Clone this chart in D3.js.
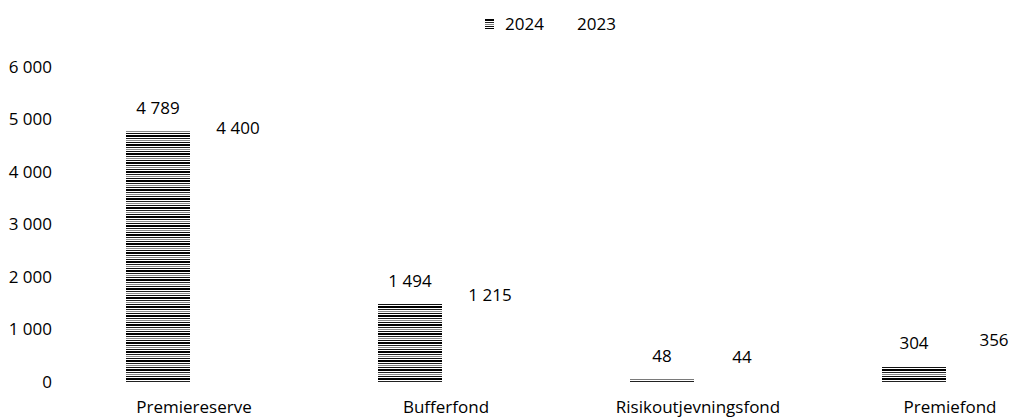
<!DOCTYPE html>
<html>
<head>
<meta charset="utf-8">
<script src="https://cdn.jsdelivr.net/npm/d3@7"></script>
<style>
  body { margin: 0; background: #fff; }
  svg text { font-family: "Open Sans", "Noto Sans", sans-serif; fill: #000; }
</style>
</head>
<body>
<div id="chart"></div>
<script>
'use strict';
// chart data
var categories = ['Premiereserve', 'Bufferfond', 'Risikoutjevningsfond', 'Premiefond'];
var series = ['2024', '2023'];
var values2024 = [4789, 1494, 48, 304];
var values2023 = [4400, 1215, 44, 356];
var yTicks = [0, 1000, 2000, 3000, 4000, 5000, 6000];

var width = 1009, height = 417;
var svg = d3.select('#chart').append('svg')
    .attr('width', width)
    .attr('height', height);

// striped fill used by the 2024 bars
var defs = svg.append('defs');
var pat = defs.append('pattern')
    .attr('id', 'stripes')
    .attr('patternUnits', 'userSpaceOnUse')
    .attr('width', 8).attr('height', 9);
pat.append('rect').attr('width', 8).attr('height', 9).attr('fill', '#fff');
pat.append('rect').attr('y', 0).attr('width', 8).attr('height', 2).attr('fill', '#000');
pat.append('rect').attr('y', 3).attr('width', 8).attr('height', 1).attr('fill', '#222');
pat.append('rect').attr('y', 5).attr('width', 8).attr('height', 1).attr('fill', '#888');
pat.append('rect').attr('y', 7).attr('width', 8).attr('height', 1).attr('fill', '#111');

var x0 = d3.scaleBand().domain(categories).range([72, 1080]);
var x1 = d3.scaleBand().domain(series).range([54, 198]).paddingInner(0.2);
var y = d3.scaleLinear().domain([0, 6000]).range([382, 67]);

var fmt = function(v) { return d3.format(',')(v).replace(/,/g, ' '); };
var fs = '17px';

// y axis labels (no line, no gridlines)
svg.append('g').selectAll('text')
    .data(yTicks).enter()
    .append('text')
      .attr('x', 52)
      .attr('y', function(d) { return y(d); })
      .attr('dy', '0.35em')
      .attr('text-anchor', 'end')
      .style('font-size', fs)
      .text(fmt);

var data = categories.map(function(c, i) {
  return { cat: c, vals: [{ s: '2024', v: values2024[i] }, { s: '2023', v: values2023[i] }] };
});

var groups = svg.append('g').selectAll('g')
    .data(data).enter()
    .append('g')
      .attr('transform', function(d) { return 'translate(' + x0(d.cat) + ',0)'; });

groups.selectAll('rect')
    .data(function(d) { return d.vals; }).enter()
    .append('rect')
      .attr('x', function(d) { return x1(d.s); })
      .attr('y', function(d) { return y(d.v); })
      .attr('width', x1.bandwidth())
      .attr('height', function(d) { return y(0) - y(d.v); })
      .attr('fill', function(d) { return d.s === '2024' ? 'url(#stripes)' : '#fff'; });

groups.selectAll('text.val')
    .data(function(d) { return d.vals; }).enter()
    .append('text')
      .attr('class', 'val')
      .attr('x', function(d) { return x1(d.s) + x1.bandwidth() / 2; })
      .attr('y', function(d) { return y(d.v) - 17; })
      .attr('text-anchor', 'middle')
      .style('font-size', fs)
      .text(function(d) { return fmt(d.v); });

// category labels
svg.append('g').selectAll('text')
    .data(categories).enter()
    .append('text')
      .attr('x', function(d) { return x0(d) + x0.bandwidth() / 2 - 4; })
      .attr('y', 413)
      .attr('text-anchor', 'middle')
      .style('font-size', fs)
      .text(function(d) { return d; });

// legend
var legend = svg.append('g').attr('transform', 'translate(485,19)');
legend.append('rect').attr('width', 9).attr('height', 10).attr('fill', 'url(#stripes)');
legend.append('text').attr('x', 20).attr('y', 5).attr('dy', '0.35em')
    .style('font-size', fs).text(series[0]);
legend.append('rect').attr('x', 72).attr('width', 9).attr('height', 10).attr('fill', '#fff');
legend.append('text').attr('x', 92).attr('y', 5).attr('dy', '0.35em')
    .style('font-size', fs).text(series[1]);
</script>
</body>
</html>
